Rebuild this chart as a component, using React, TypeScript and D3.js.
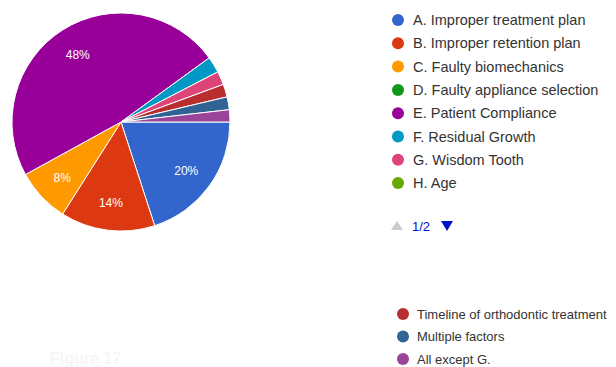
import React from "react";
import * as d3 from "d3";

const categories = [
  "A. Improper treatment plan",
  "B. Improper retention plan",
  "C. Faulty biomechanics",
  "D. Faulty appliance selection",
  "E. Patient Compliance",
  "F. Residual Growth",
  "G. Wisdom Tooth",
  "H. Age",
  "Timeline of orthodontic treatment",
  "Multiple factors",
  "All except G.",
];
const values = [20, 14, 8, 0, 48, 2.4, 2, 0, 1.9, 1.9, 1.8];
const colors = [
  "#3366cc", "#dc3912", "#ff9900", "#109618", "#990099", "#0099c6",
  "#dd4477", "#66aa00", "#b82e2e", "#316395", "#994499",
];
const pageOneCount = 8;
const pageTwoStart = 8;

export default function App() {
  const W = 616, H = 367;
  const cx = 121, cy = 122, r = 109;
  const pie = d3.pie<number>().sort(null).value((d) => d)
    .startAngle(Math.PI / 2).endAngle(Math.PI / 2 + 2 * Math.PI);
  const arcs = pie(values);
  const arc = d3.arc<d3.PieArcDatum<number>>().innerRadius(0).outerRadius(r);
  const labelArc = d3.arc<d3.PieArcDatum<number>>().innerRadius(r * 0.74).outerRadius(r * 0.74);
  const total = d3.sum(values);
  const legendY = d3.scaleLinear().domain([0, 1]).range([20, 43.3]);
  const legend2Y = d3.scaleLinear().domain([0, 1]).range([314, 336.5]);
  const font = "Arial, 'Liberation Sans', sans-serif";
  return (
    <svg width={W} height={H} style={{ position: "absolute", left: 0, top: 0, background: "#fff" }} fontFamily={font}>
      <g transform={`translate(${cx},${cy})`}>
        {arcs.map((a, i) => (
          a.value > 0 ? <path key={i} d={arc(a) || ""} fill={colors[i]} stroke="#fff" strokeWidth={1} /> : null
        ))}
        {arcs.map((a, i) => {
          if (a.value / total < 0.05) return null;
          const [x, y] = labelArc.centroid(a);
          return (
            <text key={i} x={x} y={y + 1} dy="0.35em" textAnchor="middle" fill="#fff" fontSize={12}>
              {`${Math.round((a.value / total) * 100)}%`}
            </text>
          );
        })}
      </g>
      <g>
        {categories.slice(0, pageOneCount).map((c, i) => (
          <g key={c} transform={`translate(398,${legendY(i)})`}>
            <circle r={6} fill={colors[i]} />
            <text x={15} dy="0.35em" fontSize={14.5} fill="#333">{c}</text>
          </g>
        ))}
        <g transform="translate(0,226)">
          <path d="M391,4 L397,-5 L403,4 Z" fill="#ccc" />
          <text x={412} dy="0.35em" fontSize={13} fill="#0011cc">1/2</text>
          <path d="M441,-5 L453,-5 L447,5 Z" fill="#0011cc" />
        </g>
      </g>
      <g>
        {categories.slice(pageTwoStart).map((c, i) => (
          <g key={c} transform={`translate(403,${legend2Y(i)})`}>
            <circle r={6} fill={colors[pageTwoStart + i]} />
            <text x={14} dy="0.35em" fontSize={13} fill="#333">{c}</text>
          </g>
        ))}
      </g>
      <text x={50} y={364} fontSize={16} fontWeight="bold" fill="#f6f6f6">Figure 17</text>
    </svg>
  );
}
